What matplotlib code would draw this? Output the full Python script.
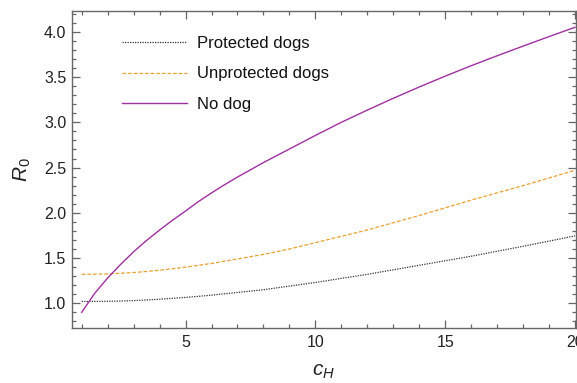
import matplotlib
matplotlib.use("Agg")
import matplotlib.pyplot as plt
from matplotlib.ticker import MultipleLocator

plt.rcParams['font.family'] = ['Liberation Sans', 'DejaVu Sans']
plt.rcParams['mathtext.fontset'] = 'custom'
plt.rcParams['mathtext.it'] = 'Liberation Sans:italic'
plt.rcParams['mathtext.rm'] = 'Liberation Sans'

# values
c_h = [1, 1.5, 2, 2.5, 3, 3.5, 4, 4.5, 5, 5.5, 6, 6.5, 7, 7.5, 8, 8.5, 9, 9.5, 10,
       11, 12, 13, 14, 15, 16, 17, 18, 19, 20]
protected = [1.02, 1.021, 1.022, 1.025, 1.03, 1.037, 1.045, 1.055, 1.065, 1.077, 1.09,
             1.105, 1.12, 1.135, 1.15, 1.17, 1.19, 1.21, 1.23,
             1.275, 1.32, 1.37, 1.42, 1.47, 1.52, 1.575, 1.63, 1.687, 1.745]
unprotected = [1.32, 1.322, 1.325, 1.332, 1.34, 1.352, 1.365, 1.382, 1.40, 1.42, 1.44,
               1.465, 1.49, 1.515, 1.54, 1.57, 1.60, 1.635, 1.67,
               1.74, 1.81, 1.89, 1.97, 2.055, 2.14, 2.22, 2.30, 2.385, 2.47]
no_dog = [0.90, 1.11, 1.28, 1.43, 1.57, 1.695, 1.81, 1.918, 2.02, 2.125, 2.22,
          2.31, 2.395, 2.475, 2.555, 2.63, 2.705, 2.78, 2.855,
          3.00, 3.135, 3.265, 3.39, 3.51, 3.625, 3.735, 3.842, 3.947, 4.05]
labels = ["Protected dogs", "Unprotected dogs", "No dog"]

fig = plt.figure(figsize=(5.77, 3.83), dpi=100)
ax = fig.add_axes([72/577, 1 - 328/383, 503.5/577, 317/383])

ax.plot(c_h, protected, color='#333333', linestyle=(0, (1, 1)), linewidth=0.9, label=labels[0])
ax.plot(c_h, unprotected, color='#eba030', linestyle=(0, (3, 1.5)), linewidth=0.9, label=labels[1])
ax.plot(c_h, no_dog, color='#a030a0', linewidth=1.0, label=labels[2])

ax.set_xlim(0.626, 20.02)
ax.set_ylim(0.727, 4.23)
ax.xaxis.set_major_locator(MultipleLocator(5))
ax.xaxis.set_minor_locator(MultipleLocator(1))
ax.yaxis.set_major_locator(MultipleLocator(0.5))
ax.yaxis.set_minor_locator(MultipleLocator(0.1))
ax.yaxis.set_major_formatter(plt.FormatStrFormatter('%.1f'))

for s in ax.spines.values():
    s.set_color('#666666')
    s.set_linewidth(1.0)
ax.tick_params(which='both', direction='in', top=True, right=True, colors='#666666',
               labelcolor='#222222', labelsize=11.5, width=0.9)
ax.tick_params(which='major', length=6)
ax.tick_params(which='minor', length=3)
ax.tick_params(axis='x', pad=5)
ax.tick_params(axis='y', pad=4)

ax.set_xlabel(r'$c_H$', fontsize=15, color='#222222', labelpad=9)
ax.set_ylabel(r'$R_0$', fontsize=15, color='#222222', labelpad=8)

leg = ax.legend(loc='upper left', bbox_to_anchor=(0.069, 0.97), frameon=False, fontsize=12,
                handlelength=3.9, handletextpad=0.6, labelspacing=0.95)
for t in leg.get_texts():
    t.set_color('#111111')

fig.savefig('out.png', dpi=100)
